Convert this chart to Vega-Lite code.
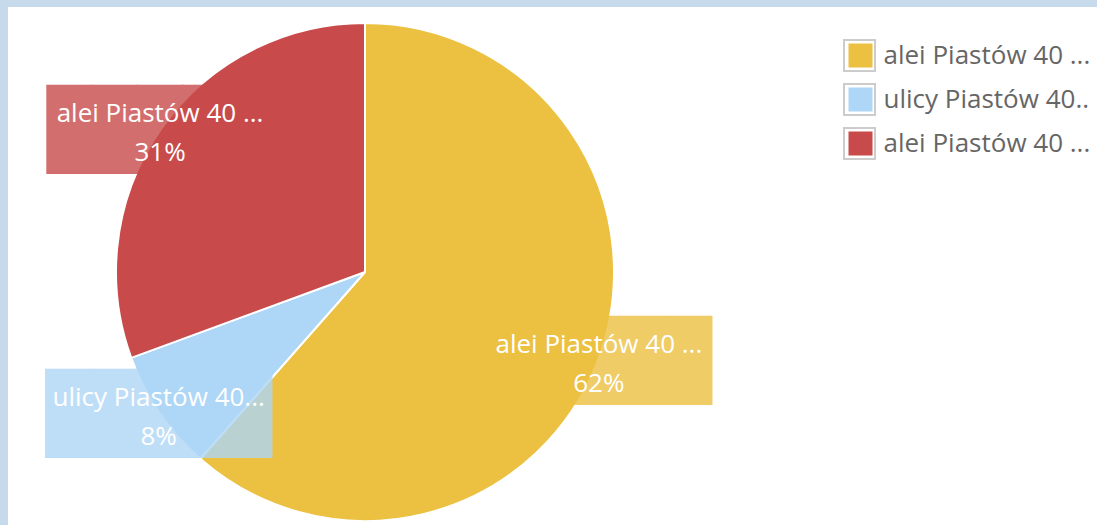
{
  "$schema": "https://vega.github.io/schema/vega-lite/v6.json",
  "background": "#c6daec",
  "padding": {"left": 8, "top": 7, "right": 0, "bottom": 0},
  "spacing": 0,
  "config": {
    "view": {"fill": "white", "stroke": null},
    "font": "Open Sans",
    "concat": {"spacing": 0}
  },
  "data": {
    "values": [
      {"id": "a", "name": "alei Piastów 40 ...", "pct": "62%", "value": 61.5},
      {"id": "b", "name": "ulicy Piastów 40...", "pct": "8%", "value": 7.9},
      {"id": "c", "name": "alei Piastów 40 ...", "pct": "31%", "value": 30.6}
    ]
  },
  "hconcat": [
    {
      "width": 714,
      "height": 530,
      "view": {"fill": "white", "stroke": null},
      "encoding": {
        "theta": {"field": "value", "type": "quantitative", "stack": true},
        "order": {"field": "id", "type": "nominal", "sort": "ascending"}
      },
      "layer": [
        {
          "mark": {"type": "arc", "outerRadius": 249, "stroke": "white", "strokeWidth": 2},
          "encoding": {
            "color": {
              "field": "id",
              "type": "nominal",
              "scale": {"domain": ["a", "b", "c"], "range": ["#ecc040", "#aed6f6", "#c94a4a"]},
              "legend": {
                "orient": "none",
                "legendX": 839.5,
                "legendY": 32,
                "title": null,
                "padding": 0,
                "clipHeight": 33,
                "symbolType": "square",
                "symbolSize": 576,
                "symbolStrokeWidth": 0,
                "symbolOpacity": 1,
                "labelFont": "Open Sans",
                "labelFontSize": 26,
                "labelColor": "#666666",
                "labelOffset": 10,
                "labelLimit": 0,
                "rowPadding": 11,
                "labelExpr": "datum.value == 'b' ? 'ulicy Piastów 40..' : 'alei Piastów 40 ...'"
              }
            }
          }
        },
        {
          "mark": {"type": "text", "text": "", "fill": "transparent"},
          "encoding": {
            "detail": {"field": "id"},
            "stroke": {
              "field": "pct",
              "type": "nominal",
              "scale": {"range": ["#cccccc", "#cccccc", "#cccccc"]},
              "legend": {
                "orient": "none",
                "legendX": 835,
                "legendY": 32,
                "title": null,
                "padding": 0,
                "clipHeight": 33,
                "symbolType": "square",
                "symbolSize": 961,
                "symbolStrokeWidth": 2,
                "symbolFillColor": "transparent",
                "labelExpr": "''",
                "rowPadding": 11
              }
            }
          }
        },
        {
          "mark": {"type": "text", "text": "█████", "font": "DejaVu Sans Mono", "fontSize": 75, "radius": 250, "dy": 3, "align": "center", "baseline": "middle", "opacity": 0.8},
          "encoding": {
            "color": {"field": "id", "type": "nominal"}
          }
        },
        {
          "mark": {"type": "text", "radius": 250, "dy": -15, "fill": "white", "fontSize": 26, "font": "Open Sans", "align": "center", "baseline": "middle"},
          "encoding": {
            "detail": {"field": "id"},
            "text": {"field": "name"}
          }
        },
        {
          "mark": {"type": "text", "radius": 250, "dy": 24, "fill": "white", "fontSize": 26, "font": "Open Sans", "align": "center", "baseline": "middle"},
          "encoding": {
            "detail": {"field": "id"},
            "text": {"field": "pct"}
          }
        }
      ]
    },
    {
      "width": 375,
      "height": 518,
      "view": {"fill": "white", "stroke": null},
      "mark": {"type": "text", "text": ""},
      "encoding": {}
    }
  ]
}
